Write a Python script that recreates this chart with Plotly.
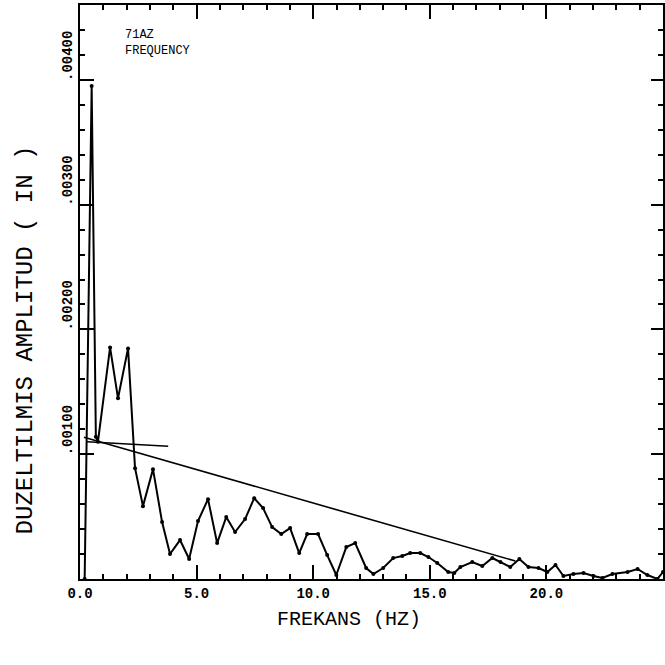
import plotly.graph_objects as go

# Spectrum curve (frequency in Hz, corrected amplitude in inches)
freq = [0.20, 0.50, 0.68, 0.77, 1.29, 1.63, 2.06, 2.36, 2.70, 3.13, 3.52, 3.86,
        4.29, 4.68, 5.06, 5.49, 5.88, 6.27, 6.65, 7.08, 7.47, 7.85, 8.24, 8.63,
        9.01, 9.40, 9.74, 10.21, 10.60, 10.99, 11.42, 11.80, 12.27, 12.58, 13.00,
        13.43, 13.82, 14.16, 14.59, 14.94, 15.32, 15.79, 16.05, 16.31, 16.82,
        17.25, 17.68, 18.03, 18.45, 18.84, 19.23, 19.66, 20.04, 20.39, 20.73,
        21.16, 21.59, 22.02, 22.40, 22.83, 23.48, 23.91, 24.33, 24.76, 25.00]
amp = [0.0, 0.00395, 0.00114, 0.00110, 0.001856, 0.001448, 0.001848, 0.000888,
       0.000584, 0.000880, 0.000456, 0.000200, 0.000312, 0.000160, 0.000464,
       0.000640, 0.000288, 0.000496, 0.000376, 0.000480, 0.000648, 0.000568,
       0.000416, 0.000360, 0.000408, 0.000208, 0.000360, 0.000360, 0.000192,
       0.000032, 0.000256, 0.000288, 0.000088, 0.000040, 0.000088, 0.000168,
       0.000184, 0.000208, 0.000208, 0.000176, 0.000128, 0.000056, 0.000048,
       0.000096, 0.000136, 0.000104, 0.000168, 0.000136, 0.000096, 0.000160,
       0.000096, 0.000088, 0.000056, 0.000112, 0.000024, 0.000040, 0.000048,
       0.000024, 0.000008, 0.000040, 0.000056, 0.000080, 0.000032, 0.0, 0.000056]

# Straight fitted line
trend_x = [0.17, 18.67]
trend_y = [0.001136, 0.000144]

# Short reference line
ref_x = [0.30, 3.78]
ref_y = [0.00110, 0.001064]

x_range = [0, 25]
y_range = [0, 0.0046]
x_tick_vals = [0, 5, 10, 15, 20]
x_tick_text = ["0.0", "5.0", "10.0", "15.0", "20.0"]
y_tick_vals = [0.001, 0.002, 0.003, 0.004]
y_tick_text = [".00100", ".00200", ".00300", ".00400"]

tick_font = dict(family="Liberation Mono", size=14, color="black", weight="bold")

fig = go.Figure()
fig.add_trace(go.Scatter(x=trend_x, y=trend_y, mode="lines",
                         line=dict(color="black", width=1.6), showlegend=False))
fig.add_trace(go.Scatter(x=ref_x, y=ref_y, mode="lines",
                         line=dict(color="black", width=1.4), showlegend=False))
fig.add_trace(go.Scatter(x=freq, y=amp, mode="lines+markers",
                         line=dict(color="black", width=2),
                         marker=dict(color="black", size=4),
                         showlegend=False))
# invisible trace on the mirrored axes so they render
fig.add_trace(go.Scatter(x=[x_range[0]], y=[y_range[0]], xaxis="x2", yaxis="y2",
                         mode="markers", marker=dict(opacity=0), hoverinfo="skip",
                         showlegend=False))

fig.update_layout(
    width=665, height=665,
    margin=dict(l=80, r=2, t=5, b=86),
    paper_bgcolor="white", plot_bgcolor="white",
    font=dict(family="Liberation Mono", color="black"),
    xaxis=dict(
        range=x_range, showgrid=False, zeroline=False,
        showline=True, linecolor="black", linewidth=2,
        ticks="inside", ticklen=14, tickwidth=2, tickcolor="black",
        tickmode="array", tickvals=x_tick_vals, ticktext=x_tick_text,
        tickfont=tick_font,
        minor=dict(tickmode="linear", tick0=0, dtick=1, ticks="inside",
                   ticklen=5, tickwidth=2, tickcolor="black"),
    ),
    yaxis=dict(
        range=y_range, showgrid=False, zeroline=False,
        showline=True, linecolor="black", linewidth=2,
        ticks="inside", ticklen=14, tickwidth=2, tickcolor="black",
        tickmode="array", tickvals=y_tick_vals, ticktext=y_tick_text,
        tickfont=tick_font, tickangle=-90, ticklabelshift=-22,
        minor=dict(tickmode="linear", tick0=0, dtick=0.0002, ticks="inside",
                   ticklen=5, tickwidth=2, tickcolor="black"),
    ),
    xaxis2=dict(
        overlaying="x", side="top", anchor="y", range=x_range,
        showgrid=False, zeroline=False, showline=True, linecolor="black",
        linewidth=2, ticks="inside", ticklen=14, tickwidth=2, tickcolor="black",
        tickmode="array", tickvals=x_tick_vals, showticklabels=False,
        minor=dict(tickmode="linear", tick0=0, dtick=1, ticks="inside",
                   ticklen=5, tickwidth=2, tickcolor="black"),
    ),
    yaxis2=dict(
        overlaying="y", side="right", anchor="x", range=y_range,
        showgrid=False, zeroline=False, showline=True, linecolor="black",
        linewidth=2, ticks="inside", ticklen=12, tickwidth=2, tickcolor="black",
        tickmode="array", tickvals=y_tick_vals, showticklabels=False,
        minor=dict(tickmode="linear", tick0=0, dtick=0.0002, ticks="inside",
                   ticklen=5, tickwidth=2, tickcolor="black"),
    ),
)

fig.add_annotation(text="DUZELTILMIS AMPLITUD ( IN )", xref="paper", yref="paper",
                   x=-0.094, y=0.416, xanchor="center", yanchor="middle",
                   textangle=-90, showarrow=False,
                   font=dict(family="Liberation Mono", size=24, color="black"))
fig.add_annotation(text="FREKANS (HZ)", xref="paper", yref="paper",
                   x=0.461, y=-0.0714, xanchor="center", yanchor="middle",
                   showarrow=False,
                   font=dict(family="Liberation Mono", size=20, color="black"))
fig.add_annotation(text="71AZ<br>FREQUENCY", xref="paper", yref="paper",
                   x=0.0738, y=0.963, xanchor="left", yanchor="top", align="left",
                   showarrow=False,
                   font=dict(family="Liberation Mono", size=12, color="black"))

fig.write_html("out.html")
